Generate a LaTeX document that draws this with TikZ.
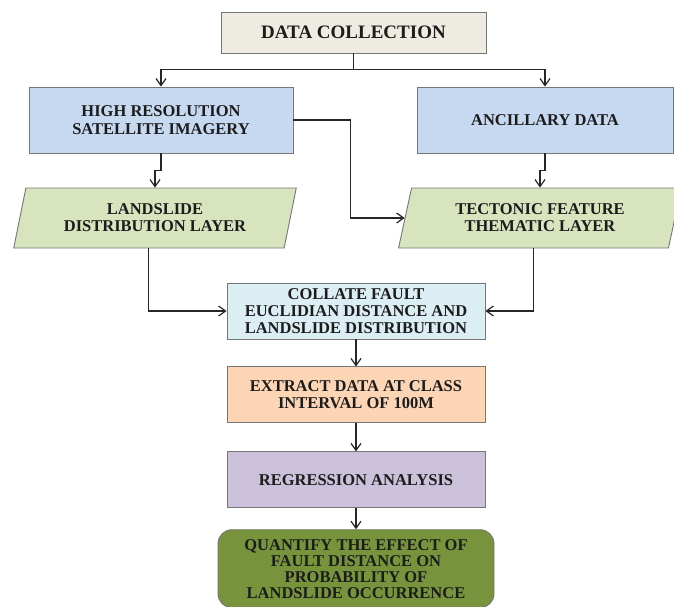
\documentclass[tikz,border=0pt]{standalone}
\usepackage{fontspec}
\setmainfont{Liberation Serif}
\usepackage{tikz}
\usetikzlibrary{arrows.meta,positioning,shapes.geometric}
\definecolor{linegray}{RGB}{118,118,118}
\definecolor{arrowgray}{RGB}{38,38,38}
\definecolor{textgray}{RGB}{28,28,28}
\definecolor{beige}{RGB}{238,236,225}
\definecolor{skyblue}{RGB}{198,217,241}
\definecolor{sage}{RGB}{215,228,189}
\definecolor{paleblue}{RGB}{219,238,244}
\definecolor{peach}{RGB}{252,213,181}
\definecolor{lavender}{RGB}{204,193,218}
\definecolor{qgreen}{RGB}{119,147,60}

\begin{document}
\begin{tikzpicture}[x=1pt,y=-1pt,
  node distance=28pt,
  block/.style={rectangle,draw=linegray,line width=0.9pt,align=center,inner sep=0pt,
                minimum width=258pt,minimum height=56pt,text=textgray,
                font=\bfseries\fontsize{16.5}{17}\selectfont},
  layer/.style={trapezium,trapezium left angle=73,trapezium right angle=107,
                trapezium stretches=true,draw=linegray,line width=0.9pt,fill=sage,
                align=center,inner sep=0pt,minimum width=283pt,minimum height=60pt,
                text=textgray,font=\bfseries\fontsize{16.5}{17}\selectfont},
  arrow/.style={-{Straight Barb[length=7pt,width=10pt]},draw=arrowgray,line width=1.2pt}
]
\fill[white] (0,0) rectangle (674,606);
\useasboundingbox (0,0) rectangle (674,606);

% sources
\node[block,fill=beige,minimum width=265pt,minimum height=41pt,
      font=\bfseries\fontsize{19}{20}\selectfont] (dc) at (353.5,32.5) {DATA COLLECTION};
\node[block,fill=skyblue,minimum width=264pt,minimum height=66pt] (hri) at (161,120)
      {HIGH RESOLUTION\\[1pt]SATELLITE IMAGERY};
\node[block,fill=skyblue,minimum width=256pt,minimum height=66pt] (anc) at (545,120)
      {ANCILLARY DATA};

% layers
\node[layer] (lsd) at (155,218) {LANDSLIDE\\DISTRIBUTION LAYER};
\node[layer] (tec) at (540,218) {TECTONIC FEATURE\\THEMATIC LAYER};

% analysis steps
\node[block,fill=paleblue] (coll) at (356,311)
      {COLLATE FAULT\\EUCLIDIAN DISTANCE AND\\LANDSLIDE DISTRIBUTION};
\node[block,fill=peach,below=27pt of coll] (ext) {EXTRACT DATA AT CLASS\\INTERVAL OF 100M};
\node[block,fill=lavender,below=of ext] (reg) {REGRESSION ANALYSIS};
\node[block,fill=qgreen,rounded corners=14pt,minimum width=276pt,minimum height=78pt,
      font=\bfseries\fontsize{16.5}{16}\selectfont,below=21pt of reg] (qua)
      {QUANTIFY THE EFFECT OF\\FAULT DISTANCE ON\\PROBABILITY OF\\LANDSLIDE OCCURRENCE};

\draw[arrowgray,line width=1.2pt] (dc.south) -- ++(0,16) coordinate (fork);
\draw[arrow] (fork) -| (hri.north);
\draw[arrow] (fork) -| (anc.north);
\draw[arrow] (hri.south) -- ++(0,17) -| (lsd.north);
\draw[arrow] (anc.south) -- ++(0,17) -| (tec.north);
\draw[arrow] (hri.east) -- ++(57,0) |- (tec.left side);
\draw[arrow] (lsd.bottom side) |- (coll.west);
\draw[arrow] (tec.bottom side) |- (coll.east);
\draw[arrow] (coll) -- (ext);
\draw[arrow] (ext) -- (reg);
\draw[arrow] (reg) -- (qua);
\end{tikzpicture}
\end{document}
